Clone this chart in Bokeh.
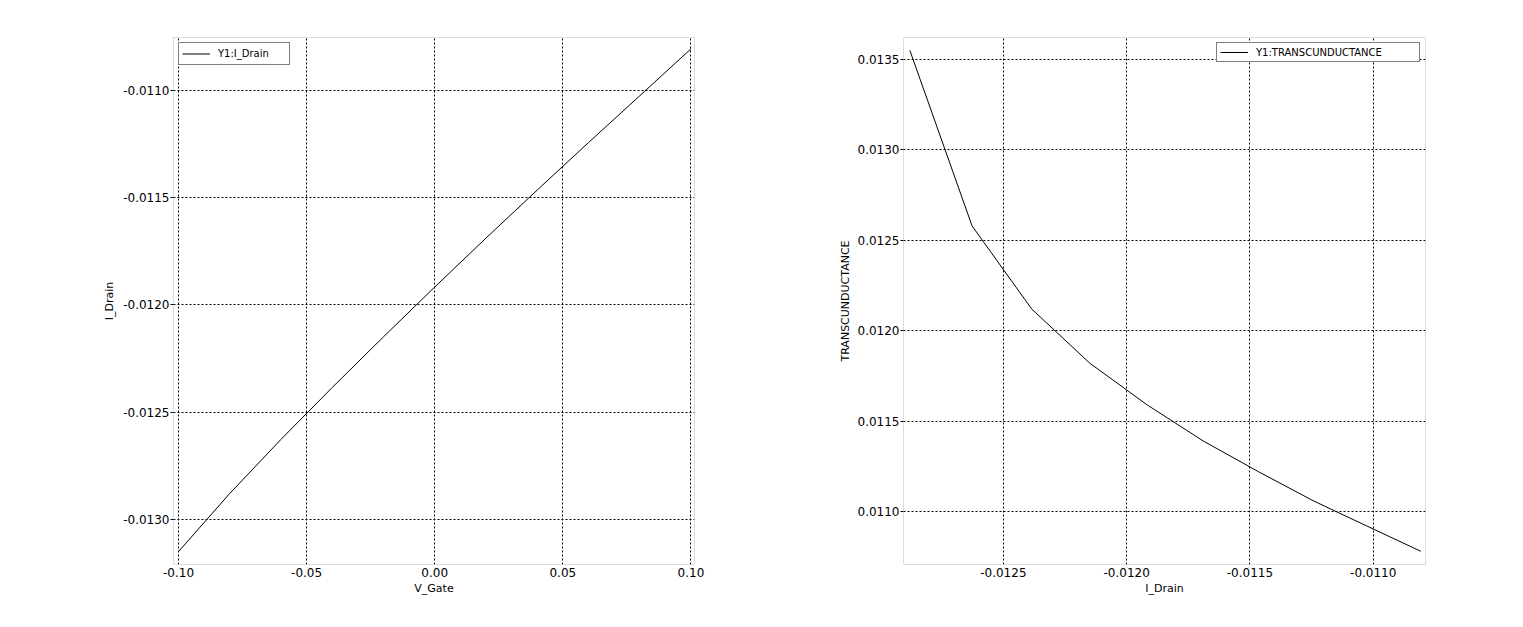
from bokeh.plotting import figure
from bokeh.layouts import row
from bokeh.models import Range1d, FixedTicker, PrintfTickFormatter, Legend, LegendItem
from bokeh.embed import file_html
from bokeh.resources import INLINE

# Left chart data: I_Drain vs V_Gate
v_gate = [-0.10, -0.08, -0.06, -0.04, -0.02, 0.00, 0.02, 0.04, 0.06, 0.08, 0.10]
i_drain = [-0.01315, -0.012879, -0.012627, -0.012385, -0.012149, -0.011917,
           -0.011689, -0.011465, -0.011244, -0.011026, -0.010807]

# Right chart data: TRANSCUNDUCTANCE vs I_Drain
i_drain_gm = [-0.012879, -0.012627, -0.012385, -0.012149, -0.011917,
              -0.011689, -0.011465, -0.011244, -0.011026, -0.010807]
transconductance = [0.01355, 0.01258, 0.01212, 0.01182, 0.01159,
                    0.01139, 0.01122, 0.01106, 0.01092, 0.01078]

left_xticks = [-0.10, -0.05, 0.00, 0.05, 0.10]
left_yticks = [-0.0130, -0.0125, -0.0120, -0.0115, -0.0110]
right_xticks = [-0.0125, -0.0120, -0.0115, -0.0110]
right_yticks = [0.0110, 0.0115, 0.0120, 0.0125, 0.0130, 0.0135]

FONT = "DejaVu Sans"


def style(p, xticks, yticks, xfmt, yfmt, xlabel, ylabel):
    p.outline_line_color = "#dcdcdc"
    p.outline_line_width = 1
    p.xaxis.ticker = FixedTicker(ticks=xticks)
    p.yaxis.ticker = FixedTicker(ticks=yticks)
    p.xaxis.formatter = PrintfTickFormatter(format=xfmt)
    p.yaxis.formatter = PrintfTickFormatter(format=yfmt)
    for ax in (p.xaxis[0], p.yaxis[0]):
        ax.axis_line_color = None
        ax.minor_tick_line_color = None
        ax.major_tick_line_color = "black"
        ax.major_tick_in = 0
        ax.major_label_text_font = FONT
        ax.major_label_text_font_size = "12px"
        ax.major_label_text_color = "black"
        ax.axis_label_text_font = FONT
        ax.axis_label_text_font_size = "11px"
        ax.axis_label_text_font_style = "normal"
        ax.axis_label_text_color = "black"
    p.xaxis.major_tick_out = 0
    p.xaxis.major_label_standoff = 3
    p.yaxis.major_tick_out = 3
    p.yaxis.major_label_standoff = 1
    p.xaxis.axis_label = xlabel
    p.yaxis.axis_label = ylabel
    p.xaxis.axis_label_standoff = 2
    p.yaxis.axis_label_standoff = 4
    for g in (p.xgrid[0], p.ygrid[0]):
        g.grid_line_color = "black"
        g.grid_line_dash = "2 2"
        g.grid_line_width = 1


def make_legend(label, renderer, loc, h, lw):
    return Legend(items=[LegendItem(label=label, renderers=[renderer])], location=loc,
                  margin=5, padding=3, spacing=0, glyph_width=28, glyph_height=h,
                  label_height=h, label_standoff=8, label_width=lw,
                  label_text_font=FONT, label_text_font_size="10px",
                  label_text_color="black",
                  border_line_color="black", border_line_width=1,
                  background_fill_color="white", background_fill_alpha=1.0)


p1 = figure(width=730, height=619, output_backend="svg", toolbar_location=None,
            x_range=Range1d(-0.10195, 0.1014), y_range=Range1d(-0.01321, -0.010754),
            min_border_left=173, min_border_right=36, min_border_top=37, min_border_bottom=55)
style(p1, left_xticks, left_yticks, "%.2f", "%.4f", "V_Gate", "I_Drain")
r1 = p1.line(v_gate, i_drain, line_color="black", line_width=1)
p1.add_layout(make_legend("Y1:I_Drain", r1, "top_left", 15, 68))

p2 = figure(width=785, height=619, output_backend="svg", toolbar_location=None,
            x_range=Range1d(-0.012905, -0.010788), y_range=Range1d(0.010707, 0.013622),
            min_border_left=173, min_border_right=90, min_border_top=37, min_border_bottom=55)
style(p2, right_xticks, right_yticks, "%.4f", "%.4f", "I_Drain", "TRANSCUNDUCTANCE")
p2.yaxis.axis_label_standoff = 3
r2 = p2.line(i_drain_gm, transconductance, line_color="black", line_width=1)
p2.add_layout(make_legend("Y1:TRANSCUNDUCTANCE", r2, "top_right", 12, 160))

layout = row(p1, p2)
open("out.html", "w").write(file_html(layout, INLINE))
